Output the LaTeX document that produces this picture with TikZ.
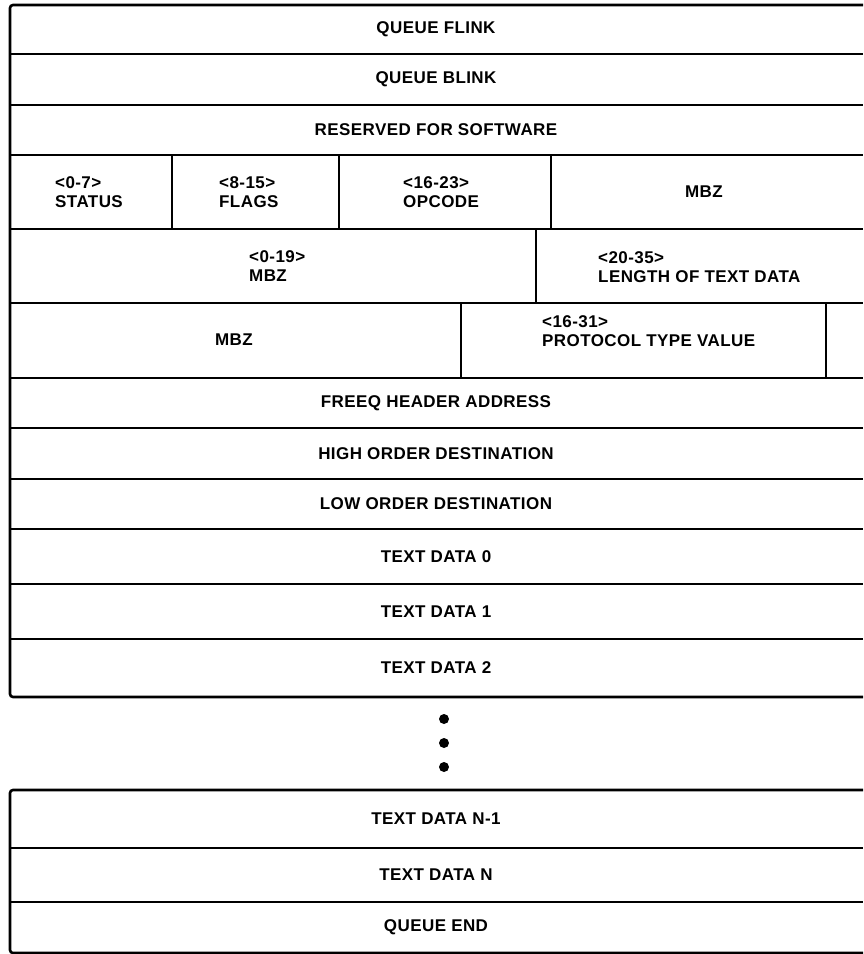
\documentclass[tikz,border=0pt]{standalone}
\usepackage{fontspec}
\setmainfont{Liberation Sans}[LetterSpace=2.5]
\begin{document}
\begin{tikzpicture}[x=1pt,y=-1pt,
  rule/.style={line width=2.6pt},
  lbl/.style={inner sep=0pt,font=\fontsize{17}{19}\selectfont\bfseries},
  pair/.style={lbl,align=left,anchor=west}]
\useasboundingbox (0,0) rectangle (863,954);

% ---- upper block: outline and row separators
\draw[rule,rounded corners=3pt] (863,5) -- (10,5) -- (10,697) -- (863,697);
\foreach \y in {54,105,155,229,303,378,428,479,529,584,639}
  \draw[rule] (10,\y) -- (863,\y);

% field dividers inside the split rows
\draw[rule] (172,155) -- (172,229);
\draw[rule] (339,155) -- (339,229);
\draw[rule] (551,155) -- (551,229);
\draw[rule] (536,229) -- (536,303);
\draw[rule] (461,303) -- (461,378);
\draw[rule] (826,303) -- (826,378);

% ---- full-width rows
\node[lbl] (flink)  at (436,29.5)  {QUEUE FLINK};
\node[lbl] (blink)  at (436,79.5)  {QUEUE BLINK};
\node[lbl] (rsvd)   at (436,130)   {RESERVED FOR SOFTWARE};
\node[lbl] (freeq)  at (436,403)   {FREEQ HEADER ADDRESS};
\node[lbl] (hidest) at (436,453.5) {HIGH ORDER DESTINATION};
\node[lbl] (lodest) at (436,504)   {LOW ORDER DESTINATION};
\node[lbl] (txt0)   at (436,556.5) {TEXT DATA 0};
\node[lbl] (txt1)   at (436,611.5) {TEXT DATA 1};
\node[lbl] (txt2)   at (436,668)   {TEXT DATA 2};

% ---- split rows
\node[pair] (status) at (55,192)  {<0-7>\\STATUS};
\node[pair] (flags)  at (219,192) {<8-15>\\FLAGS};
\node[pair] (opcode) at (403,192) {<16-23>\\OPCODE};
\node[lbl]  (mbza)   at (704,192) {MBZ};
\node[pair] (mbzb)   at (249,266) {<0-19>\\MBZ};
\node[pair] (length) at (598,267) {<20-35>\\LENGTH OF TEXT DATA};
\node[lbl]  (mbzc)   at (234,340) {MBZ};
\node[pair] (proto)  at (542,331) {<16-31>\\PROTOCOL TYPE VALUE};

% ---- continuation dots
\foreach \y in {719,743,767}
  \fill (444,\y) circle (5);

% ---- lower block
\draw[rule,rounded corners=3pt] (863,790) -- (10,790) -- (10,953) -- (863,953);
\foreach \y in {848,902}
  \draw[rule] (10,\y) -- (863,\y);
\node[lbl] (txtn1) at (436,819)   {TEXT DATA N-1};
\node[lbl] (txtn)  at (436,875)   {TEXT DATA N};
\node[lbl] (qend)  at (436,927.5) {QUEUE END};
\end{tikzpicture}
\end{document}
